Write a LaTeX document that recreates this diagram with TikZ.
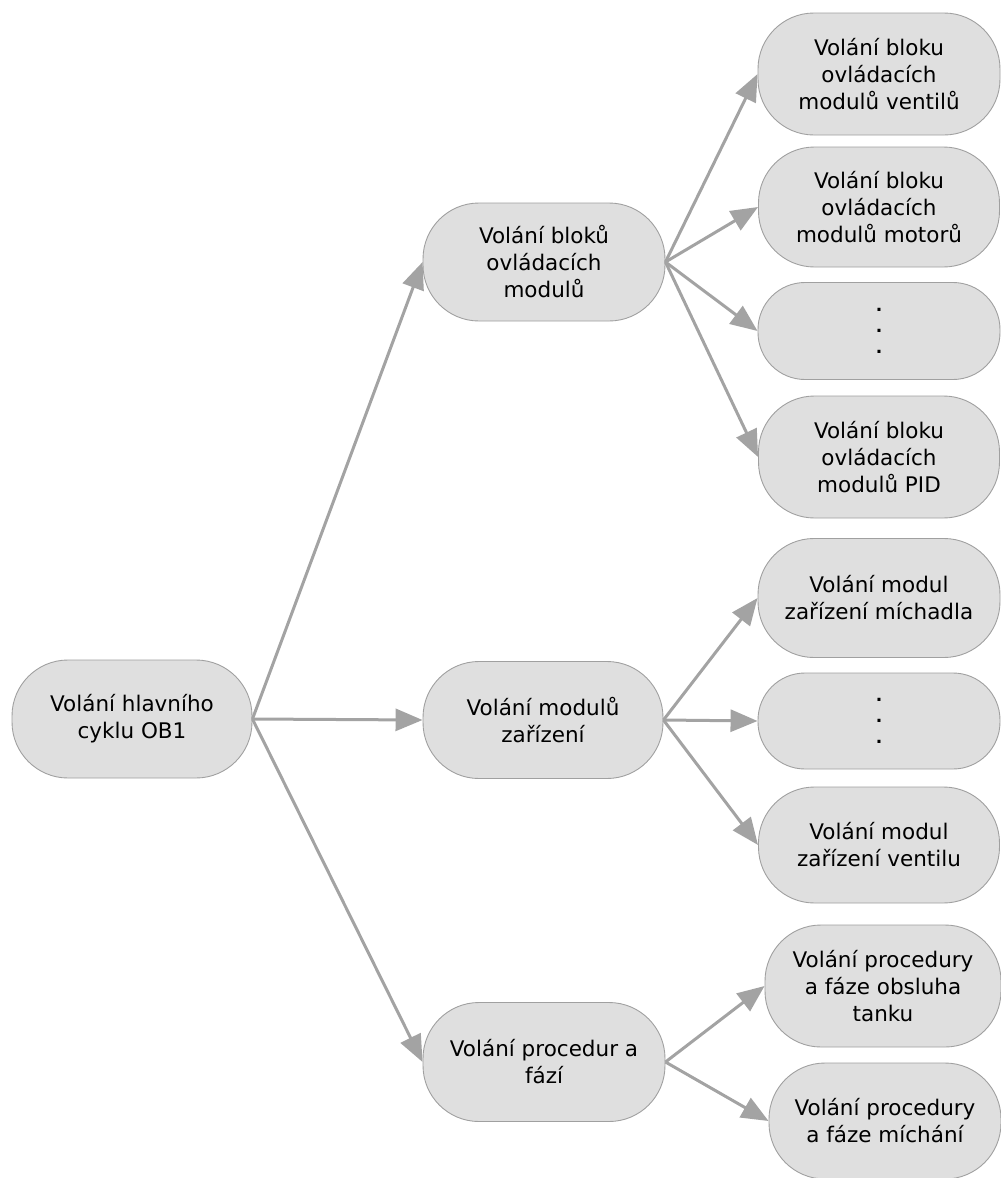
\documentclass[tikz,border=0pt]{standalone}
\usepackage{fontspec}
\setmainfont{DejaVu Sans}
\usetikzlibrary{arrows.meta}
\definecolor{boxfill}{HTML}{DFDFDF}
\definecolor{boxline}{HTML}{A0A0A0}
\definecolor{linkgray}{HTML}{A3A3A3}
\tikzset{
  pill/.style={draw=boxline, line width=0.9pt, fill=boxfill, align=center,
    inner sep=0pt, rounded corners=56pt,
    font=\fontsize{21.5}{27}\selectfont},
  dotpill/.style={pill, rounded corners=47pt,
    font=\fontsize{17}{21}\selectfont\bfseries},
  link/.style={draw=linkgray, line width=3pt,
    -{Triangle[length=27pt,width=22pt]}}
}
\begin{document}
\begin{tikzpicture}[x=1pt,y=-1pt]
\useasboundingbox (0,0) rectangle (1001,1178);

% root
\node[pill, minimum width=240pt, minimum height=118pt] (root) at (132,719)
  {Volání hlavního\\cyklu OB1};

% second level
\node[pill, minimum width=242pt, minimum height=118pt] (blocks) at (544,262)
  {Volání bloků\\ovládacích\\modulů};
\node[pill, minimum width=240pt, minimum height=117pt] (units) at (543,720)
  {Volání modulů\\zařízení};
\node[pill, minimum width=242pt, minimum height=119pt] (procs) at (544,1062)
  {Volání procedur a\\fází};

% control module blocks
\node[pill, minimum width=242pt, minimum height=122pt] (valves) at (879,74)
  {Volání bloku\\ovládacích\\modulů ventilů};
\node[pill, minimum width=241pt, minimum height=120pt] (motors) at (879,207)
  {Volání bloku\\ovládacích\\modulů motorů};
\node[dotpill, minimum width=242pt, minimum height=97pt] (moreA) at (879,331)
  {.\\.\\.};
\node[pill, minimum width=241pt, minimum height=122pt] (pid) at (879,457)
  {Volání bloku\\ovládacích\\modulů PID};

% equipment modules
\node[pill, minimum width=242pt, minimum height=119pt] (mixer) at (879,598)
  {Volání modul\\zařízení míchadla};
\node[dotpill, minimum width=242pt, minimum height=96pt] (moreB) at (879,721)
  {.\\.\\.};
\node[pill, minimum width=241pt, minimum height=116pt] (valve) at (879,845)
  {Volání modul\\zařízení ventilu};

% procedures and phases
\node[pill, minimum width=236pt, minimum height=122pt] (tank) at (883,986)
  {Volání procedury\\a fáze obsluha\\tanku};
\node[pill, minimum width=232pt, minimum height=116pt] (mixing) at (885,1121)
  {Volání procedury\\a fáze míchání};

% connectors
\draw[link] (root.east) -- (blocks.west);
\draw[link] (root.east) -- (units.west);
\draw[link] (root.east) -- (procs.west);

\draw[link] (blocks.east) -- (valves.west);
\draw[link] (blocks.east) -- (motors.west);
\draw[link] (blocks.east) -- (moreA.west);
\draw[link] (blocks.east) -- (pid.west);

\draw[link] (units.east) -- (mixer.west);
\draw[link] (units.east) -- (moreB.west);
\draw[link] (units.east) -- (valve.west);

\draw[link] (procs.east) -- (tank.west);
\draw[link] (procs.east) -- (mixing.west);
\end{tikzpicture}
\end{document}
